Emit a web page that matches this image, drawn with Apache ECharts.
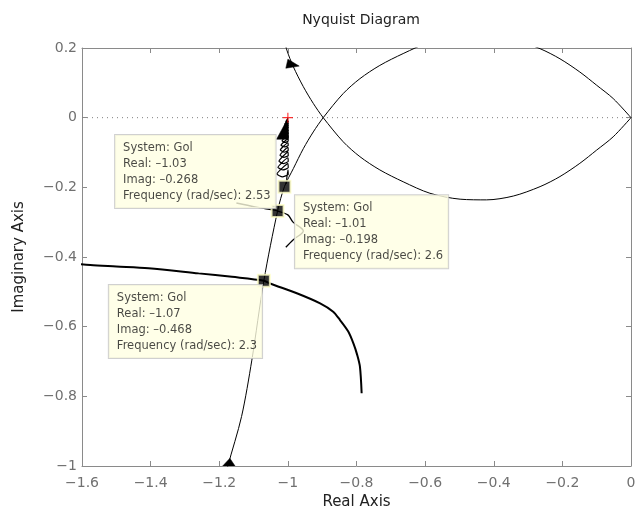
<!DOCTYPE html>
<html>
<head>
<meta charset="utf-8">
<script src="https://cdn.jsdelivr.net/npm/echarts@6/dist/echarts.min.js"></script>
<style>
  html, body { margin: 0; padding: 0; background: #fff; }
  #chart { width: 637px; height: 510px; }
</style>
</head>
<body>
<div id="chart"></div>
<script>
// Tick values of both axes
const realTicks = [-1.6, -1.4, -1.2, -1, -0.8, -0.6, -0.4, -0.2, 0];
const imagTicks = [-1, -0.8, -0.6, -0.4, -0.2, 0, 0.2];

// Positive-frequency branch of Gol(jw): upper lobe, then down past the critical point
const posRe = [0, -0.052, -0.100, -0.149, -0.207, -0.265, -0.343, -0.421, -0.498, -0.586, -0.664, -0.732, -0.790, -0.839, -0.897, -0.926, -0.955, -0.984, -1.01, -1.03, -1.07, -1.105, -1.135, -1.175, -1.182];
const posIm = [0, 0.055, 0.093, 0.131, 0.169, 0.198, 0.225, 0.236, 0.234, 0.217, 0.184, 0.150, 0.112, 0.069, 0, -0.041, -0.089, -0.146, -0.198, -0.268, -0.468, -0.696, -0.858, -1.0, -1.03];

// Negative-frequency branch (mirror image about the real axis)
const negRe = [0, -0.052, -0.100, -0.149, -0.207, -0.265, -0.343, -0.421, -0.498, -0.586, -0.664, -0.732, -0.790, -0.839, -0.897, -0.926, -0.955, -0.984, -1.003, -1.012];
const negIm = [0, -0.055, -0.093, -0.131, -0.169, -0.198, -0.225, -0.236, -0.234, -0.217, -0.184, -0.150, -0.112, -0.069, 0, 0.041, 0.089, 0.146, 0.194, 0.23];

// Wide loop entering from the left and bending down
const loopRe = [-1.62, -1.576, -1.50, -1.406, -1.26, -1.163, -1.07, -1.052, -0.974, -0.906, -0.868, -0.848, -0.824, -0.809, -0.798, -0.790, -0.785];
const loopIm = [-0.419, -0.423, -0.427, -0.432, -0.447, -0.457, -0.468, -0.476, -0.504, -0.533, -0.557, -0.581, -0.614, -0.648, -0.681, -0.715, -0.791];

// Smaller loop through the 2.53 rad/s point
const hookRe = [-1.15, -1.096, -1.067, -1.043, -1.03, -1.0, -0.985, -0.955, -0.985, -1.006];
const hookIm = [-0.245, -0.256, -0.261, -0.265, -0.268, -0.279, -0.30, -0.325, -0.351, -0.372];

// High-frequency curls converging on -1
const spiralRe = [-1.005,
  -1.0, -0.999, -1.016, -1.032,
  -1.0, -0.999, -1.0145, -1.029,
  -1.0, -0.999, -1.013, -1.026,
  -1.0, -0.999, -1.0115, -1.023,
  -1.0, -0.999, -1.011, -1.022,
  -1.0, -0.999, -1.010, -1.020,
  -1.0, -0.999, -1.0085, -1.017,
  -1.0, -0.999, -1.008, -1.016,
  -1.0, -0.999, -1.0075, -1.015,
  -1.0, -0.999, -1.0065, -1.013,
  -1.0, -0.999, -1.006, -1.012,
  -1.0, -0.999, -1.005, -1.010,
  -1.0, -0.999, -1.0045, -1.009,
  -1.0, -0.999, -1.003, -1.006,
  -1.0];
const spiralIm = [-0.19,
  -0.150, -0.163, -0.170, -0.162,
  -0.132, -0.144, -0.150, -0.143,
  -0.115, -0.126, -0.132, -0.125,
  -0.099, -0.109, -0.114, -0.108,
  -0.085, -0.094, -0.099, -0.093,
  -0.072, -0.080, -0.084, -0.079,
  -0.061, -0.067, -0.071, -0.066,
  -0.051, -0.056, -0.060, -0.056,
  -0.042, -0.047, -0.050, -0.047,
  -0.034, -0.038, -0.041, -0.038,
  -0.026, -0.030, -0.033, -0.030,
  -0.021, -0.023, -0.025, -0.023,
  -0.015, -0.018, -0.020, -0.018,
  -0.010, -0.012, -0.014, -0.012,
  -0.002];

// Direction arrowheads, three vertices each: [re1, im1, re2, im2, re3, im3]
const arrowHeads = [
  [-1.0, 0.168, -1.006, 0.142, -0.967, 0.148],
  [-1.169, -0.978, -1.190, -1.0, -1.154, -1.0],
  [-1.0, -0.002, -0.998, -0.062, -1.033, -0.062]
];

// Data tips placed on the Gol curve
const tipFreq = [2.53, 2.6, 2.3];
const tipRe = [-1.03, -1.01, -1.07];
const tipIm = [-0.268, -0.198, -0.468];

// Critical point
const critical = [[-1, 0]];

const FONT = 'DejaVu Sans';
const zip = (a, b) => a.map((v, i) => [v, b[i]]);
const dash = v => (v < 0 ? '\u2013' : '') + Math.abs(v);
const tickFmt = v => {
  if (Math.abs(v) < 1e-9) return '0';
  const s = String(parseFloat(Math.abs(v).toFixed(2)));
  return (v < 0 ? '\u2212' : '') + s;
};

// Offset of each data-tip box from its marker
const tipBoxOffset = [[-155.5, -69], [17.5, 15.5], [-148, 11.3]];

const axisLineStyle = { color: '#8a8a8a', width: 1 };
const curve = (data, width, z) => ({
  type: 'line', data, showSymbol: false, symbol: 'none', smooth: 0.3,
  lineStyle: { color: '#000', width }, z, silent: true, clip: true
});
const frameAxis = (pos, ticks) => ({
  type: 'value', min: ticks[0], max: ticks[ticks.length - 1], interval: 0.2,
  position: pos,
  axisLine: { onZero: false, lineStyle: axisLineStyle },
  axisTick: { inside: true, length: 5, lineStyle: axisLineStyle },
  axisLabel: { show: false }, splitLine: { show: false }
});

const chart = echarts.init(document.getElementById('chart'), null, { renderer: 'canvas' });
chart.setOption({
  animation: false,
  title: {
    text: 'Nyquist Diagram', left: 356, top: 8, textAlign: 'center',
    textStyle: { fontFamily: FONT, fontSize: 14, fontWeight: 'normal', color: '#222' }
  },
  grid: { left: 82, right: 6, top: 48, bottom: 44, containLabel: false, outerBoundsMode: 'none' },
  xAxis: [Object.assign(frameAxis('bottom', realTicks), {
    name: 'Real Axis', nameLocation: 'middle', nameGap: 17,
    nameTextStyle: { fontFamily: FONT, fontSize: 15, color: '#222' },
    axisLabel: { formatter: tickFmt, fontFamily: FONT, fontSize: 14, color: '#707070', margin: 10 }
  }), frameAxis('top', realTicks)],
  yAxis: [Object.assign(frameAxis('left', imagTicks), {
    name: 'Imaginary Axis', nameLocation: 'middle', nameGap: 55,
    nameTextStyle: { fontFamily: FONT, fontSize: 15, color: '#222' },
    axisLabel: { formatter: tickFmt, fontFamily: FONT, fontSize: 14, color: '#707070', margin: 5 }
  }), frameAxis('right', imagTicks)],
  series: [
    {
      type: 'line', data: [[realTicks[0], 0], [realTicks[realTicks.length - 1], 0]],
      showSymbol: false, symbol: 'none', silent: true, z: 1,
      lineStyle: { color: '#808080', width: 1, type: [1, 4] }
    },
    curve(zip(negRe, negIm), 1, 2),
    curve(zip(posRe, posIm), 1, 2),
    curve(zip(loopRe, loopIm), 2, 2),
    curve(zip(hookRe, hookIm), 1.3, 2),
    Object.assign(curve(zip(spiralRe, spiralIm), 1.2, 2), { smooth: 0.15 }),
    {
      type: 'custom', silent: true, z: 3, clip: true,
      data: arrowHeads,
      encode: { x: [0, 2, 4], y: [1, 3, 5] },
      renderItem(params, api) {
        const pts = [0, 1, 2].map(i => api.coord([api.value(2 * i), api.value(2 * i + 1)]));
        return { type: 'polygon', shape: { points: pts }, style: { fill: '#000', stroke: '#000', lineWidth: 0.5 } };
      }
    },
    {
      type: 'scatter', data: critical, silent: true, z: 4,
      symbol: 'path://M4,0H5V4H9V5H5V9H4V5H0V4H4Z', symbolSize: 10,
      itemStyle: { color: '#ff0000' }
    },
    {
      type: 'scatter', silent: true, z: 10,
      symbol: 'rect', symbolSize: 12,
      itemStyle: { color: '#000', borderColor: '#ffffc8', borderWidth: 2 },
      data: tipFreq.map((f, i) => ({
        value: [tipRe[i], tipIm[i]],
        label: {
          show: true,
          position: tipBoxOffset[i],
          align: 'left',
          verticalAlign: 'top',
          formatter: 'System: Gol\nReal: ' + dash(tipRe[i]) + '\nImag: ' + dash(tipIm[i]) +
                     '\nFrequency (rad/sec): ' + f,
          fontFamily: FONT, fontSize: 11.5, lineHeight: 16, color: '#1a1a1a',
          backgroundColor: '#ffffe2', borderColor: '#c4c4c4', borderWidth: 1,
          padding: [5, 5, 4, 8]
        }
      }))
    }
  ]
});
</script>
</body>
</html>
